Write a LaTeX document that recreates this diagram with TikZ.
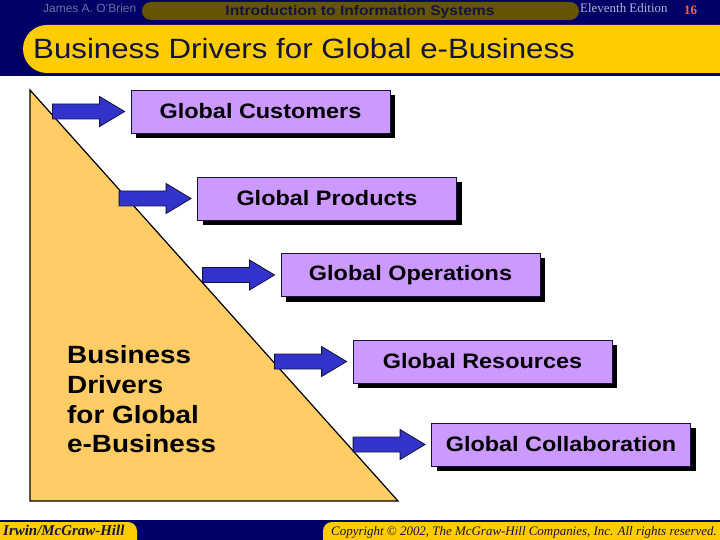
\documentclass[tikz,border=0pt]{standalone}
\usepackage{fontspec}
\setmainfont{Liberation Sans}
\newfontfamily\wide{Liberation Sans}[FakeStretch=1.12]
\newfontfamily\slide{Liberation Serif}
\usetikzlibrary{calc,shadows}
\definecolor{navy}{HTML}{000066}
\definecolor{gold}{HTML}{FFCC00}
\definecolor{olive}{HTML}{665500}
\definecolor{lilac}{HTML}{CC99FF}
\definecolor{sand}{HTML}{FFCC66}
\definecolor{pushblue}{HTML}{3333CC}
\definecolor{ink}{HTML}{14143C}
\definecolor{authorgray}{HTML}{6F6FA0}
\definecolor{edgray}{HTML}{B4B4D2}
\definecolor{pagered}{HTML}{FF6633}
\begin{document}
\begin{tikzpicture}[x=1bp,y=-1bp,
driver/.style={draw=ink,line width=.8bp,fill=lilac,minimum width=259bp,minimum height=43bp,inner sep=0pt,
  font=\wide\bfseries\fontsize{21}{24}\selectfont,
  drop shadow={opacity=1,fill=black,shadow xshift=5bp,shadow yshift=-5bp}},
push/.style={fill=pushblue,draw=ink,line width=.8bp,line join=miter}]
\newcommand{\Push}[1]{
\filldraw[push]($(#1.west)+(-6,0)$)--++(-25,-15)--++(0,7.5)--++(-47,0)--++(0,15)--++(47,0)--++(0,7.5)--cycle;}
\useasboundingbox(0,0)rectangle(720,540);
\begin{scope}
\clip(0,0)rectangle(720,540);
\fill[white](0,0)rectangle(720,540);
% header
\fill[navy](0,0)rectangle(720,76);
\fill[olive,rounded corners=9bp](142,2)rectangle(579,20);
\fill[gold,rounded corners=24bp](23,25)rectangle(770,73);
\node[anchor=base west,inner sep=0,text=authorgray,font=\fontsize{12}{14}\selectfont](author)at(43,13){James A. O'Brien};
\node[anchor=base,inner sep=0,text=ink,font=\wide\bfseries\fontsize{14}{16}\selectfont](course)at(360,16){Introduction to Information Systems};
\node[anchor=base west,inner sep=0,text=edgray,font=\slide\fontsize{13}{15}\selectfont](edition)at(580,13){Eleventh Edition};
\node[anchor=base west,inner sep=0,text=pagered,font=\slide\bfseries\fontsize{13}{15}\selectfont](page)at(684,15){16};
\node[anchor=base west,inner sep=0,text=ink,font=\wide\fontsize{28}{32}\selectfont](title)at(33,59){Business Drivers for Global e-Business};
% footer
\fill[navy](0,520)rectangle(720,540);
\fill[gold,rounded corners=9bp](-20,522)rectangle(137,560);
\fill[gold,rounded corners=9bp](323,522)rectangle(760,560);
\node[anchor=base west,inner sep=0,text=ink,font=\slide\bfseries\itshape\fontsize{15}{16}\selectfont](press)at(3,535){Irwin/McGraw-Hill};
\node[anchor=base west,inner sep=0,text=ink,font=\slide\itshape\fontsize{13}{16}\selectfont](rights)at(331,535){Copyright \textcopyright{} 2002, The McGraw-Hill Companies, Inc. All rights reserved.};
\end{scope}
% triangle
\filldraw[fill=sand,draw=black,line width=1.2bp](30,90)--(30,501)--(398,501)--cycle;
\node[anchor=north west,inner sep=0,align=left,font=\wide\bfseries\fontsize{25}{30}\selectfont](core)at(67,345){Business\\Drivers\\for Global\\e-Business};
% drivers
\node[driver](customers)at(260.5,111.5){Global Customers};
\node[driver](products)at(327,198.5){Global Products};
\node[driver](operations)at(410.5,275){Global Operations};
\node[driver](resources)at(482.5,361.5){Global Resources};
\node[driver](collab)at(561,444.5){Global Collaboration};
\Push{customers}
\Push{products}
\Push{operations}
\Push{resources}
\Push{collab}
\end{tikzpicture}
\end{document}
